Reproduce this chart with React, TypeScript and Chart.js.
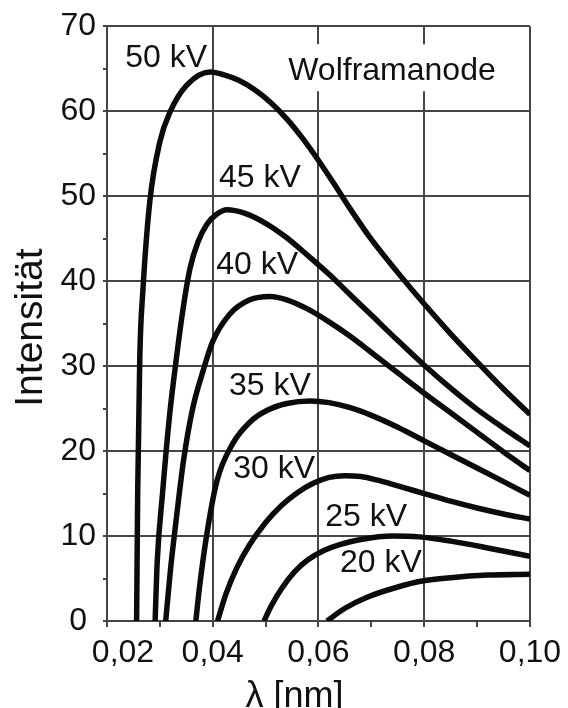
import { useEffect, useRef } from 'react';
import { Chart, registerables } from 'chart.js';

Chart.register(...registerables);

// Tick values and their German-format labels
const xTickValues = [0.02, 0.04, 0.06, 0.08, 0.1];
const xTickLabels = ['0,02', '0,04', '0,06', '0,08', '0,10'];
const yTickValues = [0, 10, 20, 30, 40, 50, 60, 70];
const yTickLabels = ['0', '10', '20', '30', '40', '50', '60', '70'];

// Bremsstrahlung spectra of a tungsten anode: wavelength (nm) and intensity
const lambda50 = [0.0256, 0.0258, 0.0262, 0.0268, 0.0281, 0.03, 0.032, 0.035, 0.0395, 0.042, 0.045, 0.048, 0.051, 0.054, 0.057, 0.06, 0.063, 0.066, 0.07, 0.075, 0.08, 0.085, 0.09, 0.095, 0.1];
const intensity50 = [0, 15, 31, 39, 49.4, 56.4, 60, 63, 64.6, 64.3, 63.6, 62.5, 61.0, 59.1, 56.8, 54.2, 51.4, 48.5, 44.9, 41.0, 37.3, 33.8, 30.5, 27.3, 24.3];

const lambda45 = [0.0291, 0.0295, 0.0305, 0.0318, 0.0332, 0.0344, 0.0357, 0.0372, 0.0389, 0.0408, 0.0427, 0.046, 0.05, 0.054, 0.058, 0.062, 0.066, 0.07, 0.075, 0.08, 0.085, 0.09, 0.095, 0.1];
const intensity45 = [0, 7, 15, 24, 31.3, 36.8, 41.5, 44.6, 46.7, 47.9, 48.4, 48.0, 46.8, 45.1, 43.0, 40.8, 38.4, 36.0, 33.0, 30.1, 27.4, 24.9, 22.7, 20.6];

const lambda40 = [0.0311, 0.032, 0.0331, 0.0345, 0.0362, 0.0382, 0.04, 0.0432, 0.047, 0.0508, 0.054, 0.058, 0.062, 0.066, 0.07, 0.075, 0.08, 0.085, 0.09, 0.095, 0.1];
const intensity40 = [0, 6, 12, 19, 25, 29.5, 32.9, 36.1, 37.8, 38.2, 37.8, 36.7, 35.2, 33.5, 31.6, 29.2, 26.8, 24.5, 22.2, 19.9, 17.7];

const lambda35 = [0.0368, 0.0375, 0.0389, 0.0408, 0.0438, 0.047, 0.0503, 0.054, 0.0584, 0.062, 0.066, 0.07, 0.075, 0.08, 0.085, 0.09, 0.095, 0.1];
const intensity35 = [0, 4, 10.3, 16.5, 20.9, 23.4, 24.8, 25.6, 25.9, 25.7, 25.1, 24.2, 22.8, 21.2, 19.6, 18.0, 16.4, 14.8];

const lambda30 = [0.0409, 0.0425, 0.0445, 0.047, 0.05, 0.053, 0.056, 0.059, 0.062, 0.065, 0.068, 0.071, 0.075, 0.08, 0.085, 0.09, 0.095, 0.1];
const intensity30 = [0, 3.2, 6.2, 9.0, 11.6, 13.6, 15.1, 16.2, 16.9, 17.1, 17.0, 16.6, 15.9, 15.0, 14.1, 13.3, 12.6, 12.0];

const lambda25 = [0.0497, 0.051, 0.053, 0.0555, 0.058, 0.061, 0.064, 0.068, 0.074, 0.079, 0.085, 0.092, 0.1];
const intensity25 = [0, 1.7, 3.8, 5.8, 7.2, 8.3, 9.0, 9.6, 10.0, 9.9, 9.4, 8.6, 7.6];

const lambda20 = [0.0616, 0.065, 0.0692, 0.075, 0.0796, 0.085, 0.092, 0.1];
const intensity20 = [0, 1.5, 2.8, 4.0, 4.7, 5.1, 5.4, 5.5];

// Tube voltage labels placed next to their curves (wavelength, intensity)
const curveLabels = ['50 kV', '45 kV', '40 kV', '35 kV', '30 kV', '25 kV', '20 kV'];
const labelLambda = [0.0312, 0.0489, 0.0484, 0.0508, 0.0516, 0.069, 0.0718];
const labelIntensity = [66.2, 52.1, 41.9, 27.6, 17.9, 12.2, 6.8];

const anodeLabel = 'Wolframanode';
const anodeLambda = 0.0739;
const anodeIntensity = 64.7;

const xTitle = 'λ [nm]';
const yTitle = 'Intensität';

const FONT = '"Liberation Sans", Arial, Helvetica, sans-serif';
const GRID = '#454545';
const INK = '#111111';

const series = [
  [lambda50, intensity50],
  [lambda45, intensity45],
  [lambda40, intensity40],
  [lambda35, intensity35],
  [lambda30, intensity30],
  [lambda25, intensity25],
  [lambda20, intensity20],
];

const isMajorX = (v: number) => Math.round(v * 100) % 2 === 0;
const isMajorY = (v: number) => Math.round(v) % 10 === 0;

const annotations = {
  id: 'annotations',
  afterDatasetsDraw(chart: any) {
    const { ctx, chartArea } = chart;
    const x = chart.scales.x;
    const y = chart.scales.y;
    ctx.save();
    ctx.fillStyle = INK;
    ctx.font = `32px ${FONT}`;
    ctx.textAlign = 'center';
    ctx.textBaseline = 'middle';

    // anode caption on a white patch that interrupts the grid
    const ax = x.getPixelForValue(anodeLambda);
    const ay = y.getPixelForValue(anodeIntensity);
    const w = ctx.measureText(anodeLabel).width;
    ctx.fillStyle = '#ffffff';
    ctx.fillRect(ax - w / 2 - 8, ay - 27, w + 16, 47);
    ctx.fillStyle = INK;
    ctx.fillText(anodeLabel, ax, ay);

    curveLabels.forEach((t, i) => {
      ctx.fillText(t, x.getPixelForValue(labelLambda[i]), y.getPixelForValue(labelIntensity[i]));
    });

    // x tick labels; the first one is nudged right, clear of the y labels
    xTickValues.forEach((v, i) => {
      const px = x.getPixelForValue(v) + (i === 0 ? 16 : 0);
      ctx.fillText(xTickLabels[i], px, chartArea.bottom + 32);
    });

    // axis titles
    ctx.font = `36px ${FONT}`;
    ctx.textBaseline = 'alphabetic';
    ctx.fillText(xTitle, (chartArea.left + chartArea.right) / 2 - 24, chartArea.bottom + 86);

    ctx.font = `39px ${FONT}`;
    ctx.translate(chartArea.left - 65, (chartArea.top + chartArea.bottom) / 2 + 4);
    ctx.rotate(-Math.PI / 2);
    ctx.fillText(yTitle, 0, 0);
    ctx.restore();
  },
};

export default function App() {
  const canvasRef = useRef<HTMLCanvasElement | null>(null);

  useEffect(() => {
    document.body.style.margin = '0';
    const canvas = canvasRef.current;
    if (!canvas) return;

    const chart = new Chart(canvas, {
      type: 'line',
      data: {
        datasets: series.map(([lx, ly], k) => ({
          label: curveLabels[k],
          data: lx.map((v, i) => ({ x: v, y: ly[i] })),
          borderColor: '#0b0b0b',
          borderWidth: 5.5,
          pointRadius: 0,
          fill: false,
          cubicInterpolationMode: 'monotone' as const,
          borderCapStyle: 'butt' as const,
        })),
      },
      options: {
        animation: false,
        responsive: false,
        devicePixelRatio: 1,
        layout: { padding: { top: 24, right: 38, left: 0, bottom: 0 } },
        plugins: {
          legend: { display: false },
          tooltip: { enabled: false },
        },
        scales: {
          x: {
            type: 'linear',
            min: 0.02,
            max: 0.1,
            ticks: { stepSize: 0.01, display: false, autoSkip: false },
            grid: {
              color: (c: any) => (isMajorX(c.tick.value) ? GRID : 'rgba(0,0,0,0)'),
              tickColor: GRID,
              lineWidth: 2,
              tickWidth: 2,
              tickLength: 6,
            },
            border: { color: GRID, width: 2 },
            afterFit: (s: any) => {
              s.height = 87;
            },
          },
          y: {
            type: 'linear',
            min: 0,
            max: 70,
            ticks: {
              stepSize: 5,
              autoSkip: false,
              color: INK,
              padding: 7,
              crossAlign: 'center',
              font: { size: 32, family: FONT },
              callback: (v: any) => {
                const i = yTickValues.indexOf(Math.round(Number(v)));
                return isMajorY(Number(v)) && i >= 0 ? yTickLabels[i] : '';
              },
            },
            grid: {
              color: (c: any) => (isMajorY(c.tick.value) ? GRID : 'rgba(0,0,0,0)'),
              tickColor: GRID,
              lineWidth: 2,
              tickWidth: 2,
              tickLength: 4,
            },
            border: { color: GRID, width: 2 },
            afterFit: (s: any) => {
              s.width = 107;
            },
          },
        },
      },
      plugins: [annotations],
    });

    return () => chart.destroy();
  }, []);

  return (
    <div style={{ width: 568, height: 708, background: '#ffffff' }}>
      <canvas ref={canvasRef} width={568} height={708} style={{ display: 'block' }} />
    </div>
  );
}
